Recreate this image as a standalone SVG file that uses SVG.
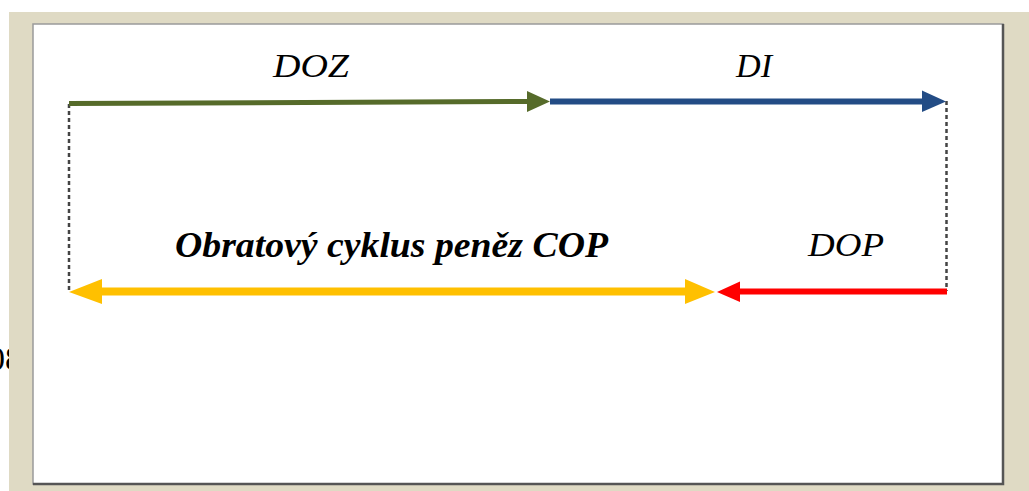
<svg xmlns="http://www.w3.org/2000/svg" width="1029" height="491" viewBox="0 0 1029 491">
  <style>
    .lbl { font-family: "Liberation Serif", "Times New Roman", serif; font-style: italic; fill: #000; }
    .guide { stroke: #444; stroke-width: 2.5; stroke-dasharray: 4 3; fill: none; }
    .shaft { fill: none; stroke-linecap: butt; }
  </style>

  <!-- page background and the page number showing at the left edge -->
  <rect x="0" y="0" width="1029" height="491" fill="#ffffff"/>
  <text x="-12" y="370" font-family="Liberation Serif, serif" font-size="34" fill="#000">08</text>
  <rect x="9" y="12" width="1020" height="479" fill="#dfdac4"/>

  <!-- figure frame -->
  <g id="frame">
    <rect x="33" y="24" width="970" height="460" fill="#ffffff" stroke="#9a9a9a" stroke-width="1.5"/>
    <path d="M1003,24 V484 H33" fill="none" stroke="#555" stroke-width="2.5"/>
  </g>

  <!-- connectors -->
  <g id="connectors">
    <!-- dashed guides -->
    <line class="guide" x1="69" y1="104" x2="69" y2="291"/>
    <line class="guide" x1="946.5" y1="101" x2="946.5" y2="291"/>

    <!-- DOZ -->
    <line class="shaft" x1="69" y1="103.5" x2="530" y2="101.5" stroke="#566b2a" stroke-width="5"/>
    <polygon points="527,91 550,101.5 527,112" fill="#566b2a"/>

    <!-- DI -->
    <line class="shaft" x1="550" y1="101.5" x2="925" y2="101.5" stroke="#234c85" stroke-width="6"/>
    <polygon points="922,90.5 946,101.5 922,112" fill="#234c85"/>

    <!-- COP (double-headed) -->
    <line class="shaft" x1="100" y1="291.5" x2="688" y2="291.5" stroke="#ffc000" stroke-width="8"/>
    <polygon points="102,279 69,292 102,304" fill="#ffc000"/>
    <polygon points="685,279 715,292 685,304" fill="#ffc000"/>

    <!-- DOP -->
    <line class="shaft" x1="737" y1="291.5" x2="947" y2="291.5" stroke="#ff0000" stroke-width="6"/>
    <polygon points="740,281.5 717,292 740,302" fill="#ff0000"/>
  </g>

  <!-- labels -->
  <g id="label-doz">
    <text class="lbl" x="273" y="77" font-size="33" textLength="76" lengthAdjust="spacingAndGlyphs">DOZ</text>
  </g>
  <g id="label-di">
    <text class="lbl" x="736" y="77" font-size="33" textLength="36" lengthAdjust="spacingAndGlyphs">DI</text>
  </g>
  <g id="label-cop">
    <text class="lbl" x="175" y="257" font-size="35" font-weight="bold" textLength="433" lengthAdjust="spacingAndGlyphs">Obratový cyklus peněz COP</text>
  </g>
  <g id="label-dop">
    <text class="lbl" x="808" y="256" font-size="33" textLength="76" lengthAdjust="spacingAndGlyphs">DOP</text>
  </g>
</svg>
